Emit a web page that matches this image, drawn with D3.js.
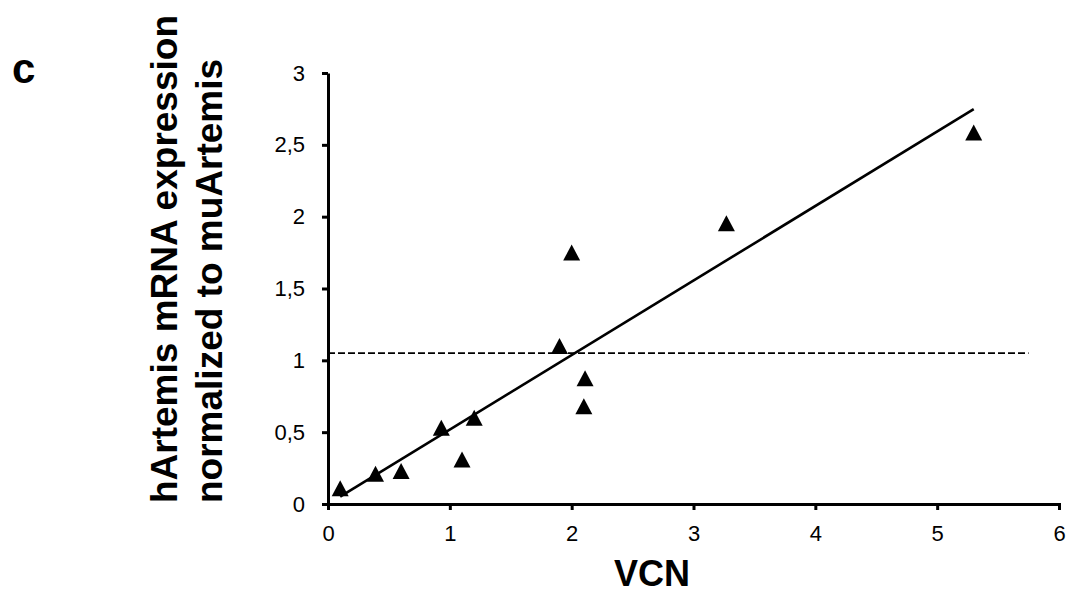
<!DOCTYPE html>
<html>
<head>
<meta charset="utf-8">
<script src="https://cdn.jsdelivr.net/npm/d3@7"></script>
<style>
  html, body { margin: 0; padding: 0; background: #fff; }
  svg { display: block; }
  text { font-family: Arial, "Liberation Sans", sans-serif; fill: #000; }
</style>
</head>
<body>
<div id="chart"></div>
<script>
// VCN vs hArtemis expression
const vcnValues = [0.1, 0.39, 0.6, 0.93, 1.1, 1.2, 1.9, 2.0, 2.11, 2.1, 3.27, 5.3];
const exprValues = [0.11, 0.21, 0.23, 0.53, 0.31, 0.6, 1.1, 1.75, 0.875, 0.68, 1.955, 2.585];
const xTicks = [0, 1, 2, 3, 4, 5, 6];
const yTicks = [0, 0.5, 1, 1.5, 2, 2.5, 3];
const thresholdLevel = [1.05];
const thresholdSpan = [0, 5.75];
const yTitleLines = ['hArtemis mRNA expression', 'normalized to muArtemis'];

const W = 1067, H = 594;
const plotLeft = 328, plotRight = 1059, plotTop = 73, plotBottom = 504;

const svg = d3.select('#chart').append('svg')
    .attr('width', W).attr('height', H);

const x = d3.scaleLinear().domain([0, 6]).range([plotLeft, plotRight]);
const y = d3.scaleLinear().domain([0, 3]).range([plotBottom, plotTop]);
const fmt = d => String(d).replace('.', ',');

// axes
const xAxis = svg.append('g')
    .attr('transform', `translate(0,${plotBottom})`)
    .call(d3.axisBottom(x).tickValues(xTicks).tickFormat(fmt)
        .tickSize(6).tickSizeOuter(6).tickPadding(15));
const yAxis = svg.append('g')
    .attr('transform', `translate(${plotLeft},0)`)
    .call(d3.axisLeft(y).tickValues(yTicks).tickFormat(fmt)
        .tickSize(6).tickSizeOuter(0).tickPadding(17));

[xAxis, yAxis].forEach(g => {
    g.select('.domain').attr('stroke', '#000').attr('stroke-width', 3);
    g.selectAll('.tick line').attr('stroke', '#000').attr('stroke-width', 3);
    g.selectAll('.tick text')
        .attr('font-family', 'Arial, "Liberation Sans", sans-serif')
        .attr('font-size', 22).attr('fill', '#000');
});

// threshold (dashed)
svg.append('line')
    .attr('x1', x(thresholdSpan[0])).attr('x2', x(thresholdSpan[1]))
    .attr('y1', y(thresholdLevel[0])).attr('y2', y(thresholdLevel[0]))
    .attr('stroke', '#000').attr('stroke-width', 1.6)
    .attr('stroke-dasharray', '7,3');

// linear trend through the origin, over the data range
const pts = vcnValues.map((v, i) => ({ x: v, y: exprValues[i] }));
const slope = d3.sum(pts, d => d.x * d.y) / d3.sum(pts, d => d.x * d.x);
const xr = d3.extent(vcnValues);
svg.append('path')
    .datum(xr.map(v => ({ x: v, y: slope * v })))
    .attr('d', d3.line().x(d => x(d.x)).y(d => y(d.y)))
    .attr('fill', 'none').attr('stroke', '#000').attr('stroke-width', 2.6);

// triangle markers, box centred on the value
const tw = 17, th = 16;
svg.append('g').selectAll('path')
    .data(pts)
    .join('path')
    .attr('transform', d => `translate(${x(d.x)},${y(d.y)})`)
    .attr('d', `M0,${-th / 2}L${tw / 2},${th / 2}L${-tw / 2},${th / 2}Z`)
    .attr('fill', '#000');

// x title
svg.append('text')
    .attr('x', 652).attr('y', 586)
    .attr('text-anchor', 'middle')
    .attr('font-size', 36).attr('font-weight', 'bold')
    .text('VCN');

// y title, two lines, bottom aligned
yTitleLines.forEach((t, i) => {
    svg.append('text')
        .attr('transform', `translate(${177 + i * 45},503) rotate(-90)`)
        .attr('text-anchor', 'start')
        .attr('font-size', 37).attr('font-weight', 'bold')
        .text(t);
});

// panel letter
svg.append('text')
    .attr('x', 12).attr('y', 83)
    .attr('font-size', 42).attr('font-weight', 'bold')
    .text('c');
</script>
</body>
</html>
